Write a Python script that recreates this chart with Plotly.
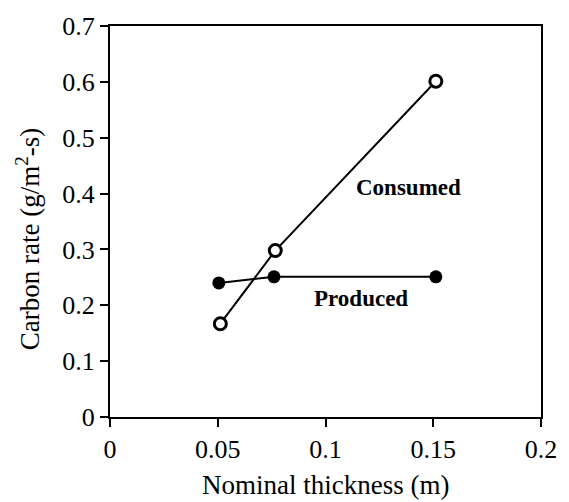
import plotly.graph_objects as go

consumed_x = [0.0512, 0.0767, 0.1512]
consumed_y = [0.167, 0.298, 0.601]
produced_x = [0.0505, 0.0761, 0.1512]
produced_y = [0.240, 0.251, 0.251]
x_ticks = [0, 0.05, 0.1, 0.15, 0.2]
x_tick_labels = ["0", "0.05", "0.1", "0.15", "0.2"]
y_ticks = [0, 0.1, 0.2, 0.3, 0.4, 0.5, 0.6, 0.7]
y_tick_labels = ["0", "0.1", "0.2", "0.3", "0.4", "0.5", "0.6", "0.7"]

font = "Liberation Serif"

fig = go.Figure()
fig.add_trace(go.Scatter(
    x=produced_x, y=produced_y, mode="lines+markers",
    line=dict(color="black", width=2),
    marker=dict(symbol="circle", size=13, color="black"),
    showlegend=False))
fig.add_trace(go.Scatter(
    x=consumed_x, y=consumed_y, mode="lines+markers",
    line=dict(color="black", width=2),
    marker=dict(symbol="circle", size=12, color="white",
                line=dict(color="black", width=3)),
    showlegend=False))

fig.add_annotation(x=0.1383, y=0.411, text="<b>Consumed</b>", showarrow=False,
                   font=dict(family=font, size=23, color="black"))
fig.add_annotation(x=0.1167, y=0.2118, text="<b>Produced</b>", showarrow=False,
                   font=dict(family=font, size=23, color="black"))

# axis titles as annotations for precise placement
fig.add_annotation(xref="paper", yref="paper", x=0.5, y=-0.175,
                   xanchor="center", yanchor="middle", showarrow=False,
                   text="Nominal thickness (m)",
                   font=dict(family=font, size=27, color="black"))
fig.add_annotation(xref="paper", yref="paper", x=-0.19, y=0.455,
                   xanchor="center", yanchor="middle", showarrow=False,
                   textangle=-90,
                   text="Carbon rate (g/m<sup>2</sup>-s)",
                   font=dict(family=font, size=27, color="black"))

fig.update_layout(
    width=569, height=502,
    margin=dict(l=110, r=18, t=17, b=85),
    paper_bgcolor="white", plot_bgcolor="white",
    font=dict(family=font, size=26, color="black"),
    xaxis=dict(range=[0, 0.2], tickvals=x_ticks, ticktext=x_tick_labels,
               ticks="outside", ticklen=8, tickwidth=2, tickcolor="black",
               tickfont=dict(family=font, size=26),
               showline=True, linecolor="black", linewidth=2, mirror=True,
               showgrid=False, zeroline=False),
    yaxis=dict(range=[0, 0.7], tickvals=y_ticks, ticktext=y_tick_labels,
               ticks="outside", ticklen=8, tickwidth=2, tickcolor="black",
               tickfont=dict(family=font, size=26),
               showline=True, linecolor="black", linewidth=2, mirror=True,
               showgrid=False, zeroline=False),
)

fig.write_html("out.html")
